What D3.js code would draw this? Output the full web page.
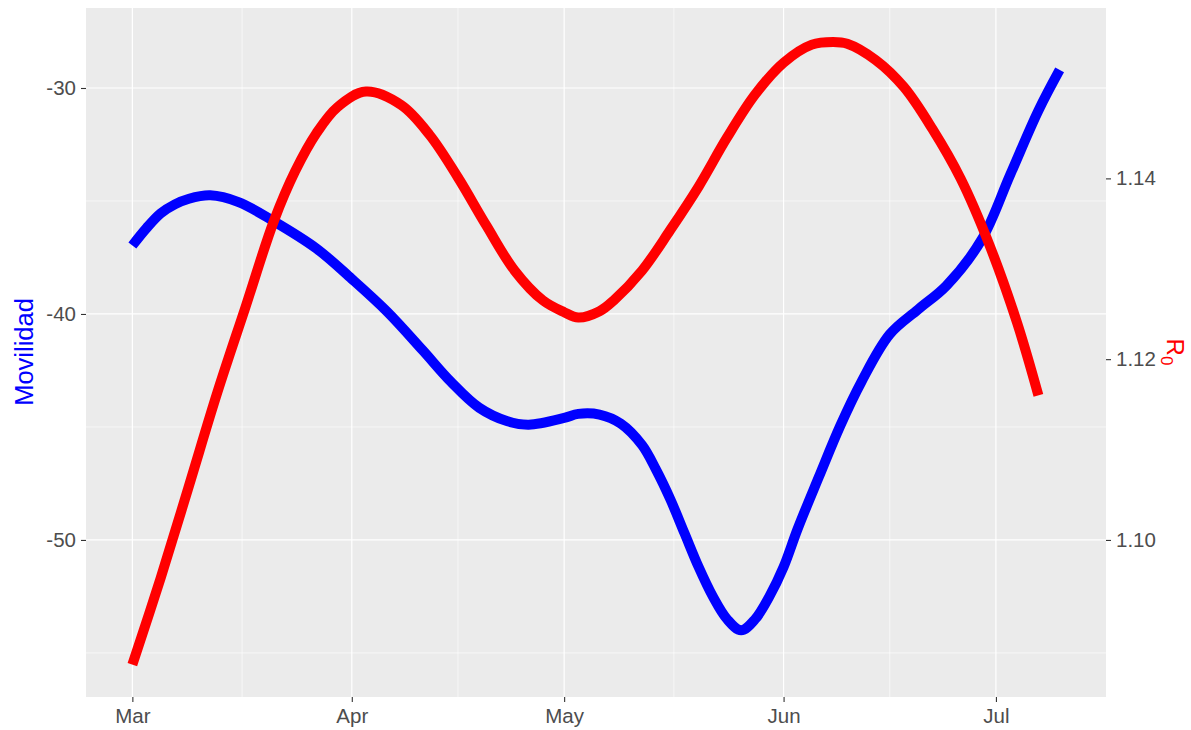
<!DOCTYPE html>
<html><head><meta charset="utf-8">
<script src="https://cdn.jsdelivr.net/npm/d3@7"></script>
<style>body{margin:0;background:#fff}svg{display:block}</style>
</head><body>
<svg id="c" width="1191" height="730"></svg>
<script>
const movDates = ["2020-03-01","2020-03-03","2020-03-05","2020-03-07","2020-03-09","2020-03-12","2020-03-16","2020-03-21","2020-03-27","2020-04-01","2020-04-06","2020-04-11","2020-04-15","2020-04-19","2020-04-23","2020-04-26","2020-05-01","2020-05-03","2020-05-06","2020-05-09","2020-05-12","2020-05-14","2020-05-16","2020-05-18","2020-05-20","2020-05-22","2020-05-24","2020-05-26","2020-05-28","2020-05-30","2020-06-01","2020-06-03","2020-06-06","2020-06-09","2020-06-12","2020-06-16","2020-06-20","2020-06-24","2020-06-29","2020-07-03","2020-07-07","2020-07-10"];
const movValues = [-36.97,-36.2,-35.55,-35.15,-34.9,-34.75,-35.05,-35.9,-37.1,-38.45,-39.9,-41.6,-43.0,-44.15,-44.75,-44.9,-44.6,-44.42,-44.45,-44.85,-45.8,-46.9,-48.2,-49.7,-51.2,-52.5,-53.5,-54.0,-53.5,-52.5,-51.2,-49.5,-47.2,-44.95,-43.0,-40.9,-39.8,-38.75,-36.7,-33.85,-31.0,-29.2];
const r0Dates = ["2020-03-01","2020-03-05","2020-03-09","2020-03-13","2020-03-17","2020-03-21","2020-03-24","2020-03-27","2020-03-30","2020-04-03","2020-04-08","2020-04-12","2020-04-16","2020-04-20","2020-04-24","2020-04-28","2020-05-01","2020-05-03","2020-05-06","2020-05-08","2020-05-12","2020-05-16","2020-05-20","2020-05-24","2020-05-28","2020-06-01","2020-06-05","2020-06-08","2020-06-10","2020-06-14","2020-06-18","2020-06-22","2020-06-26","2020-06-30","2020-07-04","2020-07-07"];
const r0Values = [1.0862,1.0958,1.1060,1.1163,1.1258,1.1353,1.1408,1.1450,1.1479,1.1496,1.1481,1.1448,1.1401,1.1348,1.1298,1.1265,1.1252,1.1246,1.1253,1.1265,1.1298,1.1343,1.1391,1.1445,1.1493,1.1528,1.1548,1.1551,1.1549,1.1531,1.1501,1.1455,1.1400,1.1328,1.1240,1.1160];
const leftTicks = [-50,-40,-30];
const rightTicks = [1.10,1.12,1.14];
const monthTicks = ["2020-03-01","2020-04-01","2020-05-01","2020-06-01","2020-07-01"];
const minorX = ["2020-03-16T12:00","2020-04-16","2020-05-16T12:00","2020-06-16"];
const minorY = [-55,-45,-35,-25];
// secondary axis transform: left = 400*(R-1.10) - 50
const toLeft = r => 400*(r-1.10) - 50;

const parse = d3.isoParse;
const svg = d3.select("#c");
const L=86, R=1106, T=8, B=697;
const FONT = "Liberation Sans, Arial, sans-serif";

const x = d3.scaleTime().domain([parse("2020-03-01"), parse("2020-07-10")]);
const xr = x.domain().map(d=>+d); const xs = xr[1]-xr[0];
x.domain([new Date(xr[0]-0.05*xs), new Date(xr[1]+0.05*xs)]).range([L,R]);
const y = d3.scaleLinear().domain([-56.95,-26.46]).range([B,T]);
const yR = d3.scaleLinear().domain([1.10+(-56.95+50)/400, 1.10+(-26.46+50)/400]).range([B,T]);

svg.append("rect").attr("x",L).attr("y",T).attr("width",R-L).attr("height",B-T).attr("fill","#EBEBEB");
const g = svg.append("g");
minorY.forEach(v=>{ if(y(v)>T && y(v)<B) g.append("line").attr("x1",L).attr("x2",R).attr("y1",y(v)).attr("y2",y(v)).attr("stroke","#fff").attr("stroke-width",0.6);});
minorX.forEach(d=>{ g.append("line").attr("x1",x(parse(d))).attr("x2",x(parse(d))).attr("y1",T).attr("y2",B).attr("stroke","#fff").attr("stroke-width",0.6);});
leftTicks.forEach(v=>{ g.append("line").attr("x1",L).attr("x2",R).attr("y1",y(v)).attr("y2",y(v)).attr("stroke","#fff").attr("stroke-width",1.2);});
monthTicks.forEach(d=>{ g.append("line").attr("x1",x(parse(d))).attr("x2",x(parse(d))).attr("y1",T).attr("y2",B).attr("stroke","#fff").attr("stroke-width",1.2);});

const movData = movDates.map((d,i)=>({d:parse(d), v:movValues[i]}));
const r0Data = r0Dates.map((d,i)=>({d:parse(d), v:toLeft(r0Values[i])}));
const line = d3.line().x(p=>x(p.d)).y(p=>y(p.v)).curve(d3.curveCatmullRom.alpha(0.5));
svg.append("path").datum(movData).attr("d",line).attr("fill","none").attr("stroke","#0000FF").attr("stroke-width",10);
svg.append("path").datum(r0Data).attr("d",line).attr("fill","none").attr("stroke","#FF0000").attr("stroke-width",10);

const fmtM = d3.timeFormat("%b");
const ax = svg.append("g").attr("transform",`translate(0,${B})`)
  .call(d3.axisBottom(x).tickValues(monthTicks.map(parse)).tickFormat(fmtM).tickSize(5).tickPadding(6));
const ay = svg.append("g").attr("transform",`translate(${L},0)`)
  .call(d3.axisLeft(y).tickValues(leftTicks).tickFormat(d=>String(d)).tickSize(5).tickPadding(5));
const ayr = svg.append("g").attr("transform",`translate(${R},0)`)
  .call(d3.axisRight(yR).tickValues(rightTicks).tickFormat(d3.format(".2f")).tickSize(5).tickPadding(5));
[ax,ay,ayr].forEach(a=>{
  a.select(".domain").remove();
  a.selectAll(".tick line").attr("stroke","#333333").attr("stroke-width",1.1);
  a.selectAll(".tick text").attr("fill","#4D4D4D").style("font-family",FONT).style("font-size","20.5px");
});

svg.append("text").attr("transform","translate(33,352) rotate(-90)").attr("text-anchor","middle")
  .attr("fill","#0000FF").style("font-family",FONT).style("font-size","25.5px").text("Movilidad");
const rt = svg.append("text").attr("transform","translate(1167,352) rotate(90)").attr("text-anchor","middle")
  .attr("fill","#FF0000").style("font-family",FONT).style("font-size","24px");
rt.append("tspan").text("R");
rt.append("tspan").attr("dy","6").style("font-size","17px").text("0");
</script>
</body></html>
